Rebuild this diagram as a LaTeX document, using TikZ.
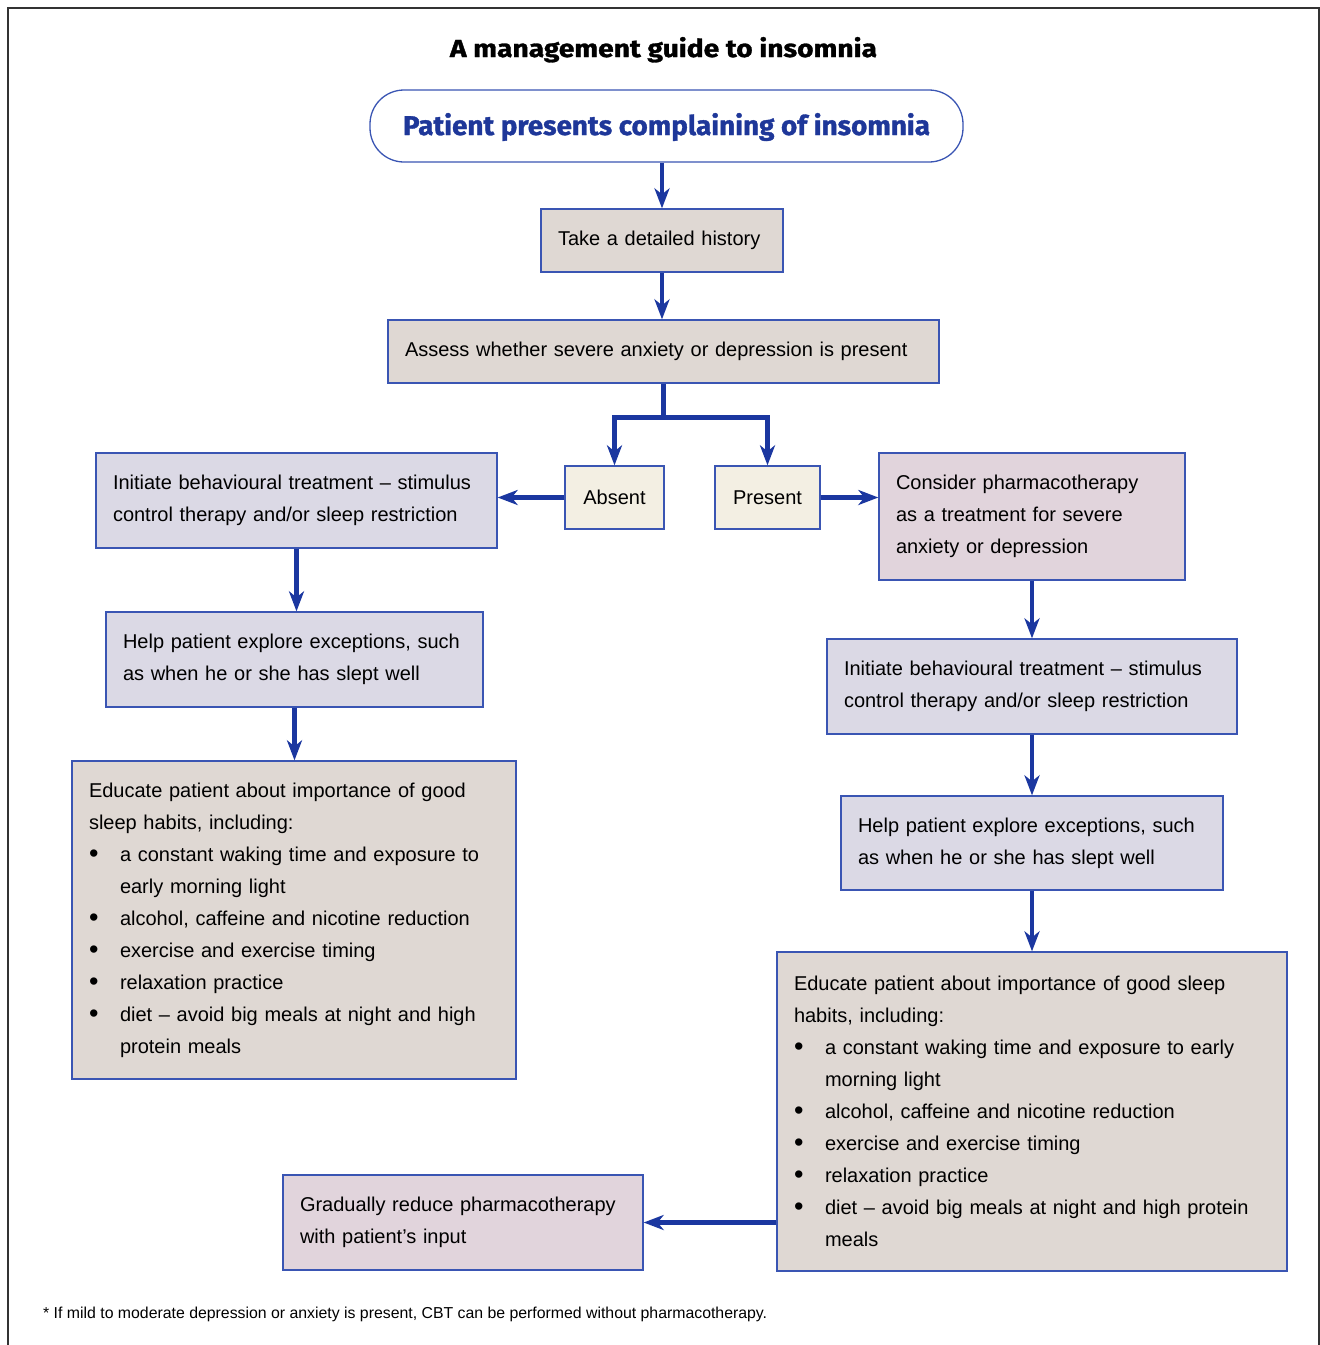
\documentclass[tikz,border=0pt]{standalone}
\usepackage{fontspec}
\setmainfont{Liberation Sans}
\newfontfamily\headfont{Fira Sans}[BoldFeatures={FakeBold=1.2}]
\usetikzlibrary{arrows.meta,calc}
\definecolor{edgeblue}{HTML}{3A55B3}
\definecolor{arrblue}{HTML}{1B37A0}
\definecolor{headblue}{HTML}{1E3799}
\definecolor{beige}{HTML}{DFD8D3}
\definecolor{lav}{HTML}{DBD9E5}
\definecolor{pinkish}{HTML}{E1D4DC}
\definecolor{cream}{HTML}{F3EFE3}
\tikzset{
  box/.style={draw=edgeblue, line width=1.3pt, rectangle, inner xsep=17pt, inner ysep=0pt,
    align=left, font=\fontsize{20}{32}\selectfont},
  cbox/.style={draw=edgeblue, line width=1.3pt, rectangle, inner sep=0pt,
    align=center, font=\fontsize{20}{32}\selectfont},
  flow/.style={draw=arrblue, line width=4.5pt,
    -{Stealth[length=20pt,width=15pt,inset=6pt]}},
}
\newcommand{\bul}{\makebox[31pt][l]{\raisebox{-1.2pt}{\fontsize{27}{27}\selectfont\textbullet}}}
\newcommand{\ind}{\hspace*{31pt}}
\begin{document}
\begin{tikzpicture}[x=1pt,y=-1pt]
\useasboundingbox (0,0) rectangle (1320,1345);
\draw[line width=1.5pt, black!80] (8,1345) -- (8,8) -- (1319,8) -- (1319,1345);

\node[anchor=base, inner sep=0pt] (title) at (663.5,57)
  {\resizebox{427pt}{20pt}{\headfont\bfseries A management guide to insomnia}};

\node[draw=edgeblue, line width=1.3pt, fill=white, rounded corners=34pt,
  minimum width=593pt, minimum height=72pt, inner sep=0pt] (top) at (666.5,126) {};
\node[anchor=base, inner sep=0pt, text=headblue] (toptext) at (666.5,135)
  {\resizebox{527pt}{22pt}{\headfont\bfseries Patient presents complaining of insomnia}};

\node[box, fill=beige, text width=208pt, minimum height=63pt] (hist) at (662,240.5)
  {Take a detailed history};
\node[box, fill=beige, text width=517pt, minimum height=63pt] (assess) at (663.5,351.5)
  {Assess whether severe anxiety or depression is present};
\node[cbox, fill=cream, minimum width=99pt, minimum height=63pt] (absent) at (614.5,497.5)
  {Absent};
\node[cbox, fill=cream, minimum width=105pt, minimum height=63pt] (present) at (767.5,497.5)
  {Present};

\node[box, fill=lav, text width=367pt, minimum height=95pt] (L1) at (296.5,500.5)
  {Initiate behavioural treatment -- stimulus\\control therapy and/or sleep restriction};
\node[box, fill=pinkish, text width=272pt, minimum height=127pt] (R1) at (1032,516.5)
  {Consider pharmacotherapy\\as a treatment for severe\\anxiety or depression};
\node[box, fill=lav, text width=343pt, minimum height=95pt] (L2) at (294.5,659.5)
  {Help patient explore exceptions, such\\as when he or she has slept well};
\node[box, fill=beige, text width=410pt, minimum height=318pt] (L3) at (294,920)
  {Educate patient about importance of good\\sleep habits, including:\\
   \bul a constant waking time and exposure to\\
   \ind early morning light\\
   \bul alcohol, caffeine and nicotine reduction\\
   \bul exercise and exercise timing\\
   \bul relaxation practice\\
   \bul diet -- avoid big meals at night and high\\
   \ind protein meals};
\node[box, fill=lav, text width=376pt, minimum height=95pt] (R2) at (1032,686.5)
  {Initiate behavioural treatment -- stimulus\\control therapy and/or sleep restriction};
\node[box, fill=lav, text width=348pt, minimum height=94pt] (R3) at (1032,843)
  {Help patient explore exceptions, such\\as when he or she has slept well};
\node[box, fill=beige, text width=476pt, minimum height=319pt] (R4) at (1032,1111.5)
  {Educate patient about importance of good sleep\\habits, including:\\
   \bul a constant waking time and exposure to early\\
   \ind morning light\\
   \bul alcohol, caffeine and nicotine reduction\\
   \bul exercise and exercise timing\\
   \bul relaxation practice\\
   \bul diet -- avoid big meals at night and high protein\\
   \ind meals};
\node[box, fill=pinkish, text width=326pt, minimum height=95pt] (G) at (463,1222.5)
  {Gradually reduce pharmacotherapy\\with patient’s input};

\node[anchor=base west, inner sep=0pt] (foot) at (43,1318)
  {\resizebox{724pt}{!}{\fontsize{15}{18}\selectfont * If mild to moderate depression or anxiety is present, CBT can be performed without pharmacotherapy.}};

% connectors
\draw[flow] (hist.north |- top.south) -- (hist.north);
\draw[flow] (hist.south) -- (hist.south |- assess.north);
\coordinate (br) at ($(assess.south)+(0,34)$);
\draw[draw=arrblue, line width=4.5pt] (assess.south) -- (br);
\draw[flow] (br) -| (absent.north);
\draw[flow] (br) -| (present.north);
\draw[flow] (absent.west) -- (absent.west -| L1.east);
\draw[flow] (present.east) -- (present.east -| R1.west);
\draw[flow] (L1.south) -- (L1.south |- L2.north);
\draw[flow] (L2.south) -- (L2.south |- L3.north);
\draw[flow] (R1.south) -- (R2.north);
\draw[flow] (R2.south) -- (R3.north);
\draw[flow] (R3.south) -- (R4.north);
\draw[flow] (R4.west |- G.east) -- (G.east);
\end{tikzpicture}
\end{document}
